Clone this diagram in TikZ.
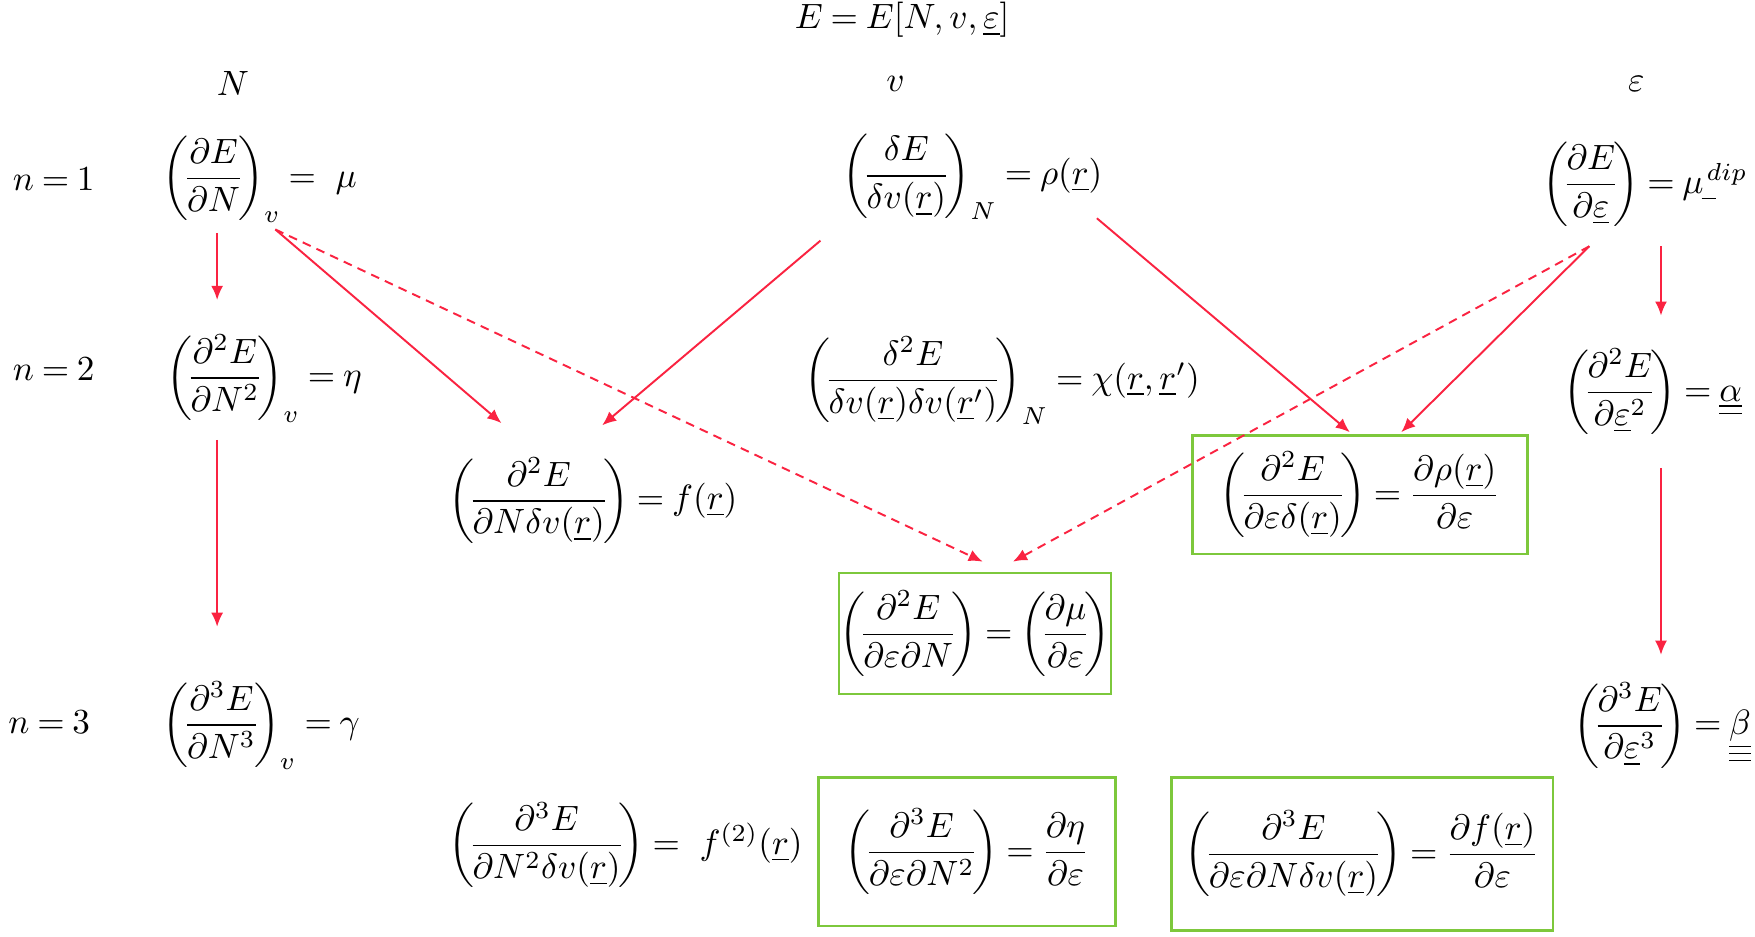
\documentclass[tikz,border=0pt]{standalone}
\usepackage{xcolor}
\usepackage{amsmath}
\usepackage{amssymb}
\usepackage{tikz}
\usetikzlibrary{calc}
\usetikzlibrary{arrows.meta}
\usetikzlibrary{positioning}
\definecolor{arrred}{RGB}{250,35,65}
\definecolor{boxgreen}{RGB}{125,200,60}
\tikzset{>=latex}
\tikzstyle{eq} = [draw=none, inner sep = 0, anchor = west]
\tikzstyle{eqr} = [draw=none, inner sep = 0, anchor = east]
\tikzstyle{res} = [draw = boxgreen, line width = .7pt, inner sep = 0]
\tikzstyle{der} = [-{Latex[length=4pt, width=3.4pt]}, draw = arrred, line width = .55pt]
\tikzstyle{cross} = [der, dash pattern = on 2.5pt off 1.8pt]
\newcommand{\ur}{\underline{r}}
\newcommand{\ueps}{\underline{\varepsilon}}
\newcommand{\pdr}[2]{\left(\!\dfrac{#1}{#2}\!\right)}
\thickmuskip=4mu plus 2mu minus 1mu

\begin{document}
\begin{tikzpicture}[x=0.01119cm, y=-0.01119cm]
\useasboundingbox (0,0) rectangle (1568,837);

% headings
\node [draw=none, inner sep = 0] (top) at (806, 18) {$E = E[N, v, \ueps]$};
\node [draw=none, inner sep = 0] (colN) at (208, 75) {$N$};
\node [draw=none, inner sep = 0] (colv) at (800, 75) {$v$};
\node [draw=none, inner sep = 0] (cole) at (1462, 75) {$\varepsilon$};
\node [draw=none, inner sep = 0] (n1) at (48, 160) {$n = 1$};
\node [draw=none, inner sep = 0] (n2) at (48, 330) {$n = 2$};
\node [draw=none, inner sep = 0] (n3) at (44, 645) {$n = 3$};

% first order
\node [eq] (N1) at (145, 160) {$\pdr{\partial E}{\partial N}_{v} = \ \mu$};
\node [eq] (v1) at (752, 158) {$\pdr{\delta E}{\delta v(\ur)}_{N} = \rho(\ur)$};
\node [eqr] (e1) at (1562, 165) {$\pdr{\partial E}{\partial \ueps} = \mu\mkern-1mu\underline{\phantom{\scriptstyle d}}^{\mkern-6mu dip}$};

% second order
\node [eq] (N2) at (148, 338) {$\pdr{\partial^2 E}{\partial N^2}_{v} = \eta$};
\node [eq] (v2) at (718, 340) {$\pdr{\delta^2 E}{\delta v(\ur)\delta v(\ur')}_{N} = \chi(\ur, \ur')$};
\node [eqr] (e2) at (1557, 350) {$\pdr{\partial^2 E}{\partial \ueps^2} = \underline{\underline{\alpha}}$};
\node [eq] (Nv2) at (400, 447) {$\pdr{\partial^2 E}{\partial N \delta v(\ur)} = f(\ur)$};
\node [res, minimum width = 3.35cm, minimum height = 1.18cm] (ev2) at (1215, 442) {$\pdr{\partial^2 E}{\partial \varepsilon \delta(\ur)} = \dfrac{\partial \rho(\ur)}{\partial \varepsilon}$};
\node [res, minimum width = 2.72cm, minimum height = 1.21cm] (eN2) at (871, 566) {$\pdr{\partial^2 E}{\partial \varepsilon \partial N} = \pdr{\partial \mu}{\partial \varepsilon}$};

% third order
\node [eq] (N3) at (145, 648) {$\pdr{\partial^3 E}{\partial N^3}_{v} = \gamma$};
\node [eqr] (e3) at (1565, 648) {$\pdr{\partial^3 E}{\partial \ueps^3} = \underline{\underline{\underline{\beta}}}$};
\node [eq] (NNv3) at (400, 755) {$\pdr{\partial^3 E}{\partial N^2 \delta v(\ur)} = \ f^{(2)}(\ur)$};
\node [res, minimum width = 2.97cm, minimum height = 1.48cm] (eNN) at (864, 761) {$\pdr{\partial^3 E}{\partial \varepsilon \partial N^2} = \dfrac{\partial \eta}{\partial \varepsilon}$};
\node [res, minimum width = 3.81cm, minimum height = 1.53cm] (eNv) at (1217, 763) {$\pdr{\partial^3 E}{\partial \varepsilon \partial N \delta v(\ur)} = \dfrac{\partial f(\ur)}{\partial \varepsilon}$};

% derivatives
\draw [der] ($(N1.west)+(49,48)$) to ($(N2.west)+(46,-70)$);
\draw [der] ($(N1.west)+(101,45)$) to ($(Nv2.west)+(48,-69)$);
\draw [cross] ($(N1.west)+(101,45)$) to ($(eN2.north)+(7,-9)$);
\draw [der] ($(v1.west)+(-19,57)$) to ($(Nv2.west)+(138,-67)$);
\draw [der] ($(v1.west)+(228,37)$) to ($(ev2.north)+(-9,-2)$);
\draw [der] ($(e1.east)+(-142,55)$) to ($(ev2.north)+(37,-2)$);
\draw [cross] ($(e1.east)+(-142,55)$) to ($(eN2.north)+(34,-9)$);
\draw [der] ($(e1.east)+(-78,55)$) to ($(e2.east)+(-73,-68)$);
\draw [der] ($(N2.west)+(46,55)$) to ($(N3.west)+(49,-88)$);
\draw [der] ($(e2.east)+(-73,68)$) to ($(e3.east)+(-81,-63)$);
\end{tikzpicture}
\end{document}
